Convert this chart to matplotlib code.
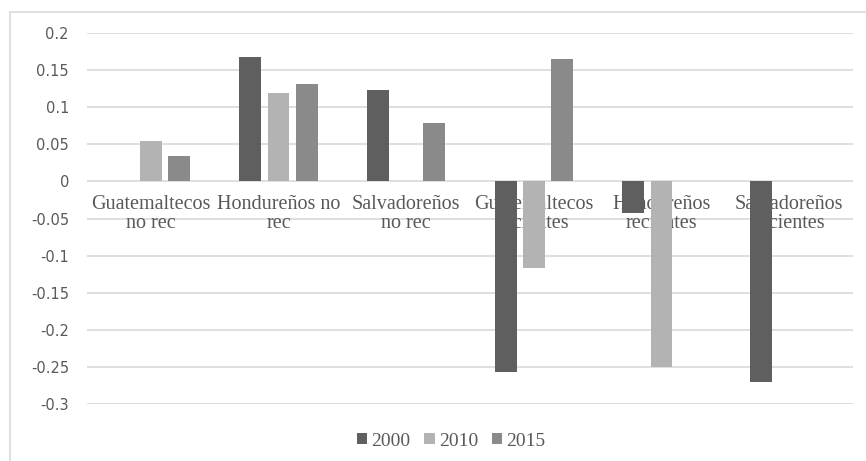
import numpy as np
import matplotlib.pyplot as plt
from matplotlib.patches import Rectangle

# ---------------- DATA ----------------
categories = ["Guatemaltecos\nno rec", "Hondureños no\nrec", "Salvadoreños\nno rec",
              "Guatemaltecos\nrecientes", "Hondureños\nrecientes", "Salvadoreños\nrecientes"]
years = ["2000", "2010", "2015"]
v2000 = [0.0, 0.168, 0.123, -0.257, -0.043, -0.271]
v2010 = [0.055, 0.119, 0.0, -0.117, -0.250, 0.0]
v2015 = [0.034, 0.131, 0.079, 0.165, 0.0, 0.0]
yticks = [0.2, 0.15, 0.1, 0.05, 0, -0.05, -0.1, -0.15, -0.2, -0.25, -0.3]
ytick_labels = ["0.2", "0.15", "0.1", "0.05", "0", "-0.05", "-0.1", "-0.15", "-0.2", "-0.25", "-0.3"]
# --------------------------------------

colors = ["#5f5f5f", "#b3b3b3", "#8a8a8a"]
series = [v2000, v2010, v2015]

fig = plt.figure(figsize=(8.66, 4.61), dpi=100)
# outer chart border
fig.patches.append(Rectangle((10 / 866, -0.1), 1.0, 1 - 12 / 461 + 0.1,
                             transform=fig.transFigure, fill=False,
                             edgecolor="#d9d9d9", linewidth=1.2))

ax = fig.add_axes([87 / 866, 57 / 461, 766 / 866, 371 / 461])

x = np.arange(len(categories))
pitch = 0.22
width = 0.172
bars = []
for k, (vals, col) in enumerate(zip(series, colors)):
    b = ax.bar(x + (k - 1) * pitch, vals, width, color=col, zorder=3, label=years[k])
    bars.append(b)

ax.set_xlim(-0.5, len(categories) - 0.5)
ax.set_ylim(-0.3, 0.2)
ax.set_yticks(yticks)
ax.set_yticklabels(ytick_labels, fontsize=10.5, color="#595959", family="DejaVu Sans")
ax.tick_params(axis="y", length=0, pad=13)
ax.set_xticks([])
ax.yaxis.grid(True, color="#d9d9d9", linewidth=1.2, zorder=0)
for s in ax.spines.values():
    s.set_visible(False)

for i, lab in enumerate(categories):
    ax.text(i, -0.019, lab, ha="center", va="top", fontsize=14.5,
            family="Liberation Serif", color="#595959", linespacing=0.95, zorder=2)

fig.legend(handles=bars, labels=years, loc="center", bbox_to_anchor=(451 / 866, 1 - 441 / 461),
           ncol=3, frameon=False, handlelength=0.55, handleheight=0.55, handletextpad=0.2,
           columnspacing=0.7, prop={"family": "Liberation Serif", "size": 14},
           labelcolor="#595959")

fig.savefig("out.png", dpi=100)
